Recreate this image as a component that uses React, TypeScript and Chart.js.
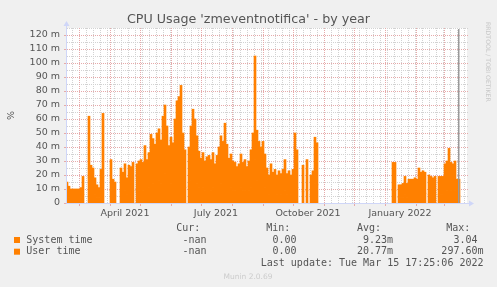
import React, { useEffect, useRef } from 'react';
import { Chart, registerables } from 'chart.js';

Chart.register(...registerables);

// Time axis: day index relative to 1 March 2021 (day 0). Samples every 2 days from 17 Feb 2021.
const startDay = -12;
const stepDays = 2;
const axisMinDay = -12;
const axisMaxDay = 388;
const nowDay = 379.73; // Tue Mar 15 17:25:06 2022

// values in milli-percent (m)
const systemTime: (number | null)[] = [
  5, 4, 3, 3, 3, 3, 3, 4, 6, null,
  null, 18, 8, 8, 6, 4, 4, 7, 19, null,
  null, null, 9, 5, 5, null, null, 8, 7, 9,
  6, 8, 8, 9, null, 8, 9, 10, 9, 12,
  10, 11, 15, 14, 13, 15, 16, 14, 18, 21,
  17, 12, 14, 13, 18, 22, 23, 25, 15, 11,
  null, 12, 16, 20, 18, 14, 11, 10, 11, 9,
  10, 10, 9, 11, 8, 10, 12, 14, 13, 17,
  13, 10, 11, 9, 9, 8, 8, 11, 9, 9,
  8, 9, 11, 15, 31, 16, 13, 12, 13, 11,
  8, 6, 8, 7, 7, 6, 7, 6, 7, 9,
  6, 7, 6, 7, 15, 11, null, null, 8, null,
  9, null, 6, 7, 14, 13, null, null, null, null,
  null, null, null, null, null, null, null, null, null, null,
  null, null, null, null, null, null, null, null, null, null,
  null, null, null, null, null, null, null, null, null, null,
  null, null, null, 9, 9, null, 4, 4, 4, 6,
  4, 5, 5, 5, 5, 5, 8, 7, 7, 7,
  null, 6, 6, 5, 6, null, 6, 6, 6, 8,
  9, 12, 9, 8, 9, 5, 5,
];

const userTime: (number | null)[] = [
  10, 8, 7, 7, 7, 7, 7, 7, 13, null,
  null, 44, 19, 17, 12, 9, 7, 17, 45, null,
  null, null, 22, 12, 10, null, null, 17, 15, 19,
  12, 19, 18, 20, null, 20, 21, 21, 20, 29,
  21, 25, 34, 32, 29, 35, 37, 31, 44, 49,
  38, 29, 33, 30, 42, 51, 53, 59, 35, 27,
  null, 28, 39, 47, 42, 34, 26, 22, 25, 21,
  23, 24, 22, 25, 20, 24, 28, 34, 31, 40,
  29, 22, 24, 21, 20, 18, 20, 24, 20, 22,
  18, 21, 27, 35, 74, 36, 31, 28, 31, 24,
  17, 14, 20, 15, 17, 14, 16, 15, 17, 22,
  15, 16, 14, 17, 35, 27, null, null, 19, null,
  22, null, 14, 16, 33, 30, null, null, null, null,
  null, null, null, null, null, null, null, null, null, null,
  null, null, null, null, null, null, null, null, null, null,
  null, null, null, null, null, null, null, null, null, null,
  null, null, null, 20, 20, null, 9, 9, 10, 13,
  10, 12, 12, 12, 13, 12, 17, 15, 16, 15,
  null, 14, 13, 13, 13, null, 13, 13, 13, 20,
  21, 27, 20, 20, 21, 12, 12,
];

const yMax = 125;
const yTickValues = [0, 10, 20, 30, 40, 50, 60, 70, 80, 90, 100, 110, 120];
const xLabelDays = [46, 137, 229, 321];
const xLabels = ['April 2021', 'July 2021', 'October 2021', 'January 2022'];

const title = "CPU Usage 'zmeventnotifica' - by year";
const seriesNames = ['System time', 'User time'];
const curValues = ['-nan', '-nan'];
const minValues = ['0.00 ', '0.00 '];
const avgValues = ['9.23m', '20.77m'];
const maxValues = ['3.04 ', '297.60m'];
const lastUpdate = 'Last update: Tue Mar 15 17:25:06 2022';
const version = 'Munin 2.0.69';
const watermark = 'RRDTOOL / TOBI OETIKER';

const ORANGE = '#ff8000';
const FONT = "'DejaVu Sans'";
const MONO = "'DejaVu Sans Mono'";
const TEXT = '#555555';
const AXIS = '#cfd6f8';
const MINOR = '#d2d2d2';
const MAJOR = '#e6aaaa';

const base = new Date(Date.UTC(2021, 2, 1)).getTime();
const monthStartDays: number[] = [];
for (let m = 1; m <= 14; m++) {
  const d = (Date.UTC(2021, m, 1) - base) / 86400000;
  if (d >= axisMinDay && d <= axisMaxDay) monthStartDays.push(d);
}
monthStartDays.unshift(0);
const firstMonday = -7;

const muninPlugin = {
  id: 'munin',
  beforeDraw(chart: any) {
    const { ctx, chartArea: a, scales } = chart;
    const x = scales.x;
    const y = scales.y;
    ctx.save();
    ctx.fillStyle = '#f0f0f0';
    ctx.fillRect(0, 0, chart.width, chart.height);
    ctx.fillStyle = '#ffffff';
    ctx.fillRect(a.left, a.top, a.right - a.left, a.bottom - a.top);

    ctx.lineWidth = 1;
    ctx.setLineDash([1, 1]);
    const right = a.right + 1;
    const hline = (v: number, c: string) => {
      const py = Math.round(y.getPixelForValue(v)) + 0.5;
      ctx.strokeStyle = c;
      ctx.beginPath();
      ctx.moveTo(a.left, py);
      ctx.lineTo(right, py);
      ctx.stroke();
    };
    const vline = (d: number, c: string) => {
      const px = Math.round(x.getPixelForValue(d)) + 0.5;
      ctx.strokeStyle = c;
      ctx.beginPath();
      ctx.moveTo(px, a.bottom);
      ctx.lineTo(px, a.top);
      ctx.stroke();
    };
    for (let v = 5; v <= yMax; v += 10) hline(v, MINOR);
    for (let d = firstMonday; d <= axisMaxDay; d += 7) vline(d, MINOR);
    yTickValues.forEach((v) => { if (v > 0) hline(v, MAJOR); });
    monthStartDays.forEach((d) => vline(d, MAJOR));
    ctx.restore();
  },
  afterDatasetsDraw(chart: any) {
    const { ctx, chartArea: a, scales } = chart;
    const x = scales.x;
    const y = scales.y;
    ctx.save();
    // now line
    const nx = x.getPixelForValue(nowDay);
    ctx.strokeStyle = '#999999';
    ctx.lineWidth = 1.5;
    ctx.beginPath();
    ctx.moveTo(nx, a.top + 1);
    ctx.lineTo(nx, a.bottom);
    ctx.stroke();

    // tick marks
    ctx.lineWidth = 1;
    yTickValues.forEach((v) => {
      const py = Math.round(y.getPixelForValue(v)) + 0.5;
      ctx.strokeStyle = MAJOR;
      ctx.beginPath();
      ctx.moveTo(a.left - 3, py);
      ctx.lineTo(a.left, py);
      ctx.stroke();
    });
    monthStartDays.forEach((d) => {
      const px = Math.round(x.getPixelForValue(d)) + 0.5;
      ctx.strokeStyle = MAJOR;
      ctx.beginPath();
      ctx.moveTo(px, a.bottom);
      ctx.lineTo(px, a.bottom + 3);
      ctx.stroke();
    });

    // axes
    ctx.strokeStyle = AXIS;
    ctx.fillStyle = AXIS;
    ctx.lineWidth = 1;
    const ax = a.left - 0.5;
    const ay = a.bottom + 0.5;
    ctx.beginPath();
    ctx.moveTo(ax, ay);
    ctx.lineTo(ax, a.top - 3);
    ctx.moveTo(ax, ay);
    ctx.lineTo(a.right + 3, ay);
    ctx.stroke();
    ctx.beginPath();
    ctx.moveTo(ax, a.top - 7);
    ctx.lineTo(ax - 3, a.top - 2);
    ctx.lineTo(ax + 3, a.top - 2);
    ctx.closePath();
    ctx.fill();
    ctx.beginPath();
    ctx.moveTo(a.right + 7, ay);
    ctx.lineTo(a.right + 2, ay - 3);
    ctx.lineTo(a.right + 2, ay + 3);
    ctx.closePath();
    ctx.fill();
    ctx.restore();
  },
  afterDraw(chart: any) {
    const { ctx } = chart;
    ctx.save();
    // title
    ctx.fillStyle = TEXT;
    ctx.font = `12.7px ${FONT}`;
    ctx.textAlign = 'center';
    ctx.textBaseline = 'alphabetic';
    ctx.fillText(title, 248.5, 23);

    // unit label
    ctx.save();
    ctx.translate(13.5, 115.5);
    ctx.rotate(-Math.PI / 2);
    ctx.font = `9.5px ${FONT}`;
    ctx.textAlign = 'center';
    ctx.fillText('%', 0, 0);
    ctx.restore();

    // watermark
    ctx.save();
    ctx.translate(486, 22);
    ctx.rotate(Math.PI / 2);
    ctx.fillStyle = '#c8c8c8';
    ctx.font = `6.2px ${FONT}`;
    ctx.textAlign = 'left';
    ctx.fillText(watermark, 0, 0);
    ctx.restore();

    // legend
    ctx.font = `10px ${MONO}`;
    ctx.fillStyle = TEXT;
    ctx.textAlign = 'left';
    const heads = [['Cur:', 176.3], ['Min:', 266.3], ['Avg:', 357], ['Max:', 446.3]];
    heads.forEach(([t, hx]) => ctx.fillText(t as string, hx as number, 231));
    const rowsY = [242.7, 254.4];
    seriesNames.forEach((name, i) => {
      const by = rowsY[i];
      ctx.fillStyle = ORANGE;
      ctx.fillRect(14, by - 5.7, 6, 6);
      ctx.fillStyle = TEXT;
      ctx.textAlign = 'left';
      ctx.fillText(name, 26.3, by);
      ctx.textAlign = 'right';
      ctx.fillText(curValues[i], 206.5, by);
      ctx.fillText(minValues[i], 302.5, by);
      ctx.fillText(avgValues[i], 393, by);
      ctx.fillText(maxValues[i], 483.5, by);
    });
    ctx.textAlign = 'right';
    ctx.fillText(lastUpdate, 483.5, 266.2);

    ctx.font = `7.5px ${FONT}`;
    ctx.fillStyle = '#cccccc';
    ctx.textAlign = 'center';
    ctx.fillText(version, 248, 279);
    ctx.restore();
  },
};

export default function App() {
  const ref = useRef<HTMLCanvasElement>(null);
  useEffect(() => {
    if (!ref.current) return;
    const toPoints = (arr: (number | null)[]) =>
      arr.map((v, i) => ({ x: startDay + i * stepDays, y: v }));
    const chart = new Chart(ref.current, {
      type: 'bar',
      data: {
        datasets: [
          {
            label: seriesNames[0],
            data: toPoints(systemTime) as any,
            backgroundColor: ORANGE,
            borderWidth: 0,
            barPercentage: 1,
            categoryPercentage: 1,
          },
          {
            label: seriesNames[1],
            data: toPoints(userTime) as any,
            backgroundColor: ORANGE,
            borderWidth: 0,
            barPercentage: 1,
            categoryPercentage: 1,
          },
        ],
      },
      options: {
        responsive: false,
        animation: false,
        devicePixelRatio: 1,
        layout: { padding: { top: 28, right: 30, left: 0, bottom: 0 } },
        plugins: {
          legend: { display: false },
          title: { display: false },
          tooltip: { enabled: false },
        },
        events: [],
        scales: {
          x: {
            type: 'linear',
            min: axisMinDay,
            max: axisMaxDay,
            offset: false,
            stacked: true,
            grid: { display: false, drawTicks: false, offset: false },
            border: { display: false },
            afterBuildTicks: (s: any) => {
              s.ticks = xLabelDays.map((v) => ({ value: v }));
            },
            afterFit: (s: any) => {
              s.height = 84;
            },
            ticks: {
              autoSkip: false,
              maxRotation: 0,
              padding: 5,
              color: TEXT,
              font: { family: FONT, size: 9.5 },
              callback: (_v: any, i: number) => xLabels[i],
            },
          },
          y: {
            type: 'linear',
            min: 0,
            max: yMax,
            stacked: true,
            grid: { display: false, drawTicks: false },
            border: { display: false },
            afterBuildTicks: (s: any) => {
              s.ticks = yTickValues.map((v) => ({ value: v }));
            },
            afterFit: (s: any) => {
              s.width = 67;
            },
            ticks: {
              padding: 7,
              color: TEXT,
              font: { family: FONT, size: 9.5 },
              callback: (v: any) => (v === 0 ? '0' : `${v} m`),
            },
          },
        },
      } as any,
      plugins: [muninPlugin],
    });
    return () => chart.destroy();
  }, []);
  return (
    <div style={{ position: 'fixed', left: 0, top: 0, width: 497, height: 287, background: '#f0f0f0' }}>
      <canvas ref={ref} width={497} height={287} style={{ display: 'block', width: 497, height: 287 }} />
    </div>
  );
}
